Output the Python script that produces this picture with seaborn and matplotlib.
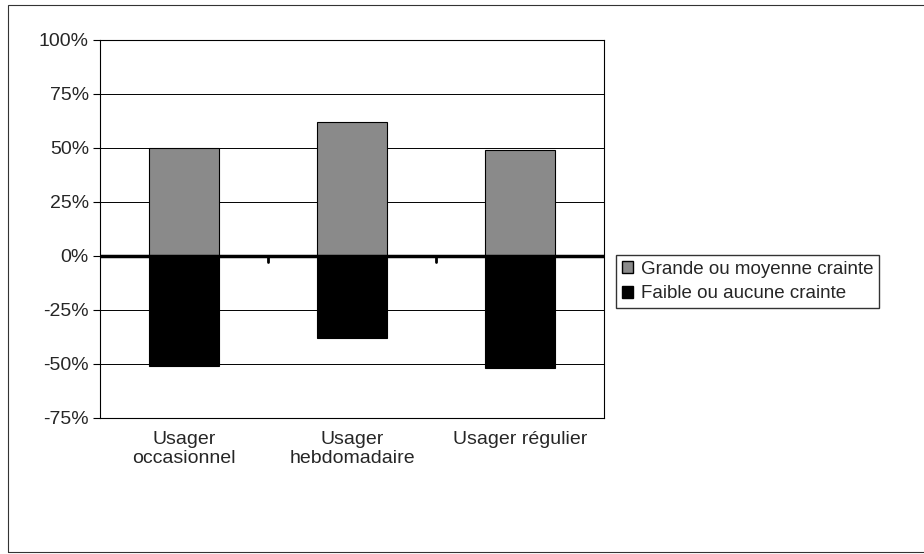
import pandas as pd
import numpy as np
import matplotlib.pyplot as plt
import seaborn as sns
from matplotlib.patches import Rectangle

# Values (%)
categories = ['Usager\noccasionnel', 'Usager\nhebdomadaire', 'Usager régulier']
grande = [50, 62, 49]
faible = [-51, -38, -52]
series_names = ['Grande ou moyenne crainte', 'Faible ou aucune crainte']
y_ticks = [-75, -50, -25, 0, 25, 50, 75, 100]

sns.set_theme(style='white')
plt.rcParams['font.family'] = ['Liberation Sans', 'DejaVu Sans']

df = pd.DataFrame({
    'cat': categories * 2,
    'val': grande + faible,
    'serie': [series_names[0]] * 3 + [series_names[1]] * 3,
})

fig = plt.figure(figsize=(9.24, 5.54), dpi=100)
ax = fig.add_axes([100 / 924, 1 - 418 / 554, 504 / 924, 378 / 554])

sns.barplot(data=df, x='cat', y='val', hue='serie', dodge=False,
            palette=['#8a8a8a', '#000000'], width=0.42, ax=ax,
            edgecolor='black', linewidth=0.8, legend=False)

ax.set_ylim(-75, 100)
ax.set_xlim(-0.5, 2.5)
ax.set_yticks(y_ticks)
ax.set_yticklabels([f'{t}%' for t in y_ticks], fontsize=14)
ax.tick_params(axis='y', length=5, width=0.8, color='black', left=True, pad=3)
ax.tick_params(axis='x', length=0, labelsize=14, pad=9)
ax.set_xlabel('')
ax.set_ylabel('')
ax.yaxis.grid(True, color='black', linewidth=0.7)
ax.set_axisbelow(True)
for s in ax.spines.values():
    s.set_color('black')
    s.set_linewidth(0.8)

# thick zero line with small ticks between categories
ax.axhline(0, color='black', linewidth=2.5, zorder=5)
for xb in [0.5, 1.5]:
    ax.plot([xb, xb], [0, -3], color='black', linewidth=2, zorder=5)

# legend
handles = [Rectangle((0, 0), 1, 1, facecolor='#8a8a8a', edgecolor='black'),
           Rectangle((0, 0), 1, 1, facecolor='black', edgecolor='black')]
fig.legend(handles, series_names, loc='upper left',
           bbox_to_anchor=(607 / 924, 1 - 246 / 554), fontsize=13.5,
           frameon=True, fancybox=False, edgecolor='black',
           handlelength=0.6, handleheight=0.6, handletextpad=0.4,
           borderpad=0.3, labelspacing=0.4)

# outer frame of the chart (right side runs off the page)
fig.patches.append(Rectangle((8 / 924, 2 / 554), 930 / 924, 547 / 554,
                             transform=fig.transFigure, fill=False,
                             edgecolor='#333333', linewidth=0.8))

fig.savefig('out.png', dpi=100)
